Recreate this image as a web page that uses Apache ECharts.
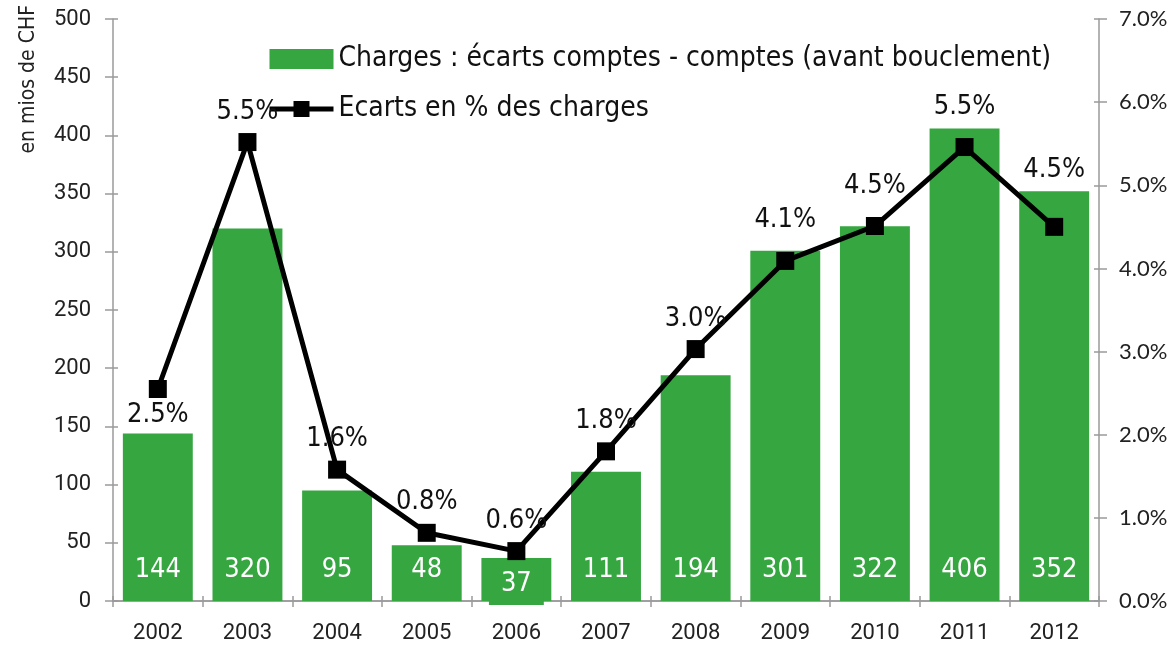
<!DOCTYPE html>
<html>
<head>
<meta charset="utf-8">
<script src="https://cdn.jsdelivr.net/npm/echarts@6/dist/echarts.min.js"></script>
<style>
  html, body { margin: 0; padding: 0; background: #fff; }
  #chart { width: 1176px; height: 646px; }
</style>
</head>
<body>
<div id="chart"></div>
<script>
// données
const years = ['2002', '2003', '2004', '2005', '2006', '2007', '2008', '2009', '2010', '2011', '2012']
const charges = [144, 320, 95, 48, 37, 111, 194, 301, 322, 406, 352]
const ecartsPct = [2.55, 5.52, 1.58, 0.82, 0.6, 1.8, 3.03, 4.09, 4.51, 5.46, 4.5]

const FONT = '"Liberation Sans Narrow", "DejaVu Sans Condensed", "Liberation Sans", sans-serif'
const GREEN = '#36a641'
const AXIS = '#9a9a9a'

const chart = echarts.init(document.getElementById('chart'))

// position des étiquettes du % (comme dans l'original Excel)
const pctLabel = (i) => {
  if (i === 0) return { position: 'bottom', distance: 3 }
  if (i === 10) return { position: 'top', distance: 34 }
  if (i >= 7) return { position: 'top', distance: 18 }
  return { position: 'top', distance: 8 }
}

// axe "fantôme" pour avoir des graduations des deux côtés de l'axe
const innerTicks = { show: true, inside: true, length: 5, lineStyle: { color: AXIS, width: 1.5 } }

const option = {
  animation: false,
  textStyle: { fontFamily: FONT },
  grid: { left: 113, right: 77, top: 19, bottom: 45 },
  legend: {
    orient: 'vertical',
    left: 262,
    top: 40,
    itemWidth: 64,
    itemHeight: 20,
    itemGap: 22,
    textStyle: { fontFamily: FONT, fontSize: 28, color: '#111' },
    data: [
      { name: 'Charges : écarts comptes - comptes (avant bouclement)', icon: 'rect' },
      { name: 'Ecarts en % des charges', lineStyle: { width: 5, color: '#000' }, itemStyle: { color: '#000' } }
    ]
  },
  graphic: [{
    type: 'text',
    left: 18,
    top: 5,
    rotation: Math.PI / 2,
    style: { text: 'en mios de CHF', font: '21px ' + FONT, fill: '#222' }
  }],
  xAxis: [{
    type: 'category',
    data: years,
    axisLine: { lineStyle: { color: AXIS, width: 1.5 } },
    axisTick: { show: true, length: 6, lineStyle: { color: AXIS, width: 1.5 } },
    axisLabel: { fontFamily: 'Roboto', fontSize: 22, color: '#222', margin: 21 }
  }, {
    type: 'category',
    position: 'top',
    data: years,
    axisLine: { lineStyle: { color: AXIS, width: 1.5 } },
    axisTick: { show: false },
    axisLabel: { show: false }
  }, {
    type: 'category',
    position: 'bottom',
    data: years,
    axisLine: { show: false },
    axisTick: innerTicks,
    axisLabel: { show: false }
  }],
  yAxis: [{
    type: 'value',
    min: 0,
    max: 500,
    interval: 50,
    axisLine: { show: true, lineStyle: { color: AXIS, width: 1.5 } },
    axisTick: { show: true, length: 8, lineStyle: { color: AXIS, width: 1.5 } },
    axisLabel: { fontFamily: 'Roboto', fontSize: 22, color: '#222', margin: 22 },
    splitLine: { show: false }
  }, {
    type: 'value',
    min: 0,
    max: 7,
    interval: 1,
    axisLine: { show: true, lineStyle: { color: AXIS, width: 1.5 } },
    axisTick: { show: true, length: 8, lineStyle: { color: AXIS, width: 1.5 } },
    axisLabel: {
      fontFamily: 'Lato', fontSize: 22, color: '#222', margin: 20,
      formatter: v => v.toFixed(1) + '%'
    },
    splitLine: { show: false }
  }, {
    type: 'value',
    position: 'left',
    min: 0,
    max: 500,
    interval: 50,
    axisLine: { show: false },
    axisTick: innerTicks,
    axisLabel: { show: false },
    splitLine: { show: false }
  }, {
    type: 'value',
    position: 'right',
    min: 0,
    max: 7,
    interval: 1,
    axisLine: { show: false },
    axisTick: innerTicks,
    axisLabel: { show: false },
    splitLine: { show: false }
  }],
  series: [{
    name: 'Charges : écarts comptes - comptes (avant bouclement)',
    type: 'bar',
    barWidth: '78%',
    itemStyle: { color: GREEN },
    data: charges.map((v, i) => {
      if (i !== 4) return v
      return {
        value: v,
        label: { backgroundColor: GREEN, padding: [6, 12, 8, 12], distance: -4 }
      }
    }),
    label: {
      show: true,
      position: 'insideBottom',
      distance: 18,
      color: '#fff',
      fontFamily: FONT,
      fontSize: 27
    }
  }, {
    name: 'Ecarts en % des charges',
    type: 'line',
    yAxisIndex: 1,
    symbol: 'rect',
    symbolSize: 18,
    lineStyle: { color: '#000', width: 5 },
    itemStyle: { color: '#000' },
    data: ecartsPct.map((v, i) => ({ value: v, label: pctLabel(i) })),
    label: {
      show: true,
      color: '#111',
      fontFamily: FONT,
      fontSize: 27,
      formatter: p => p.value.toFixed(1) + '%'
    },
    z: 5
  }]
}

chart.setOption(option)
</script>
</body>
</html>
